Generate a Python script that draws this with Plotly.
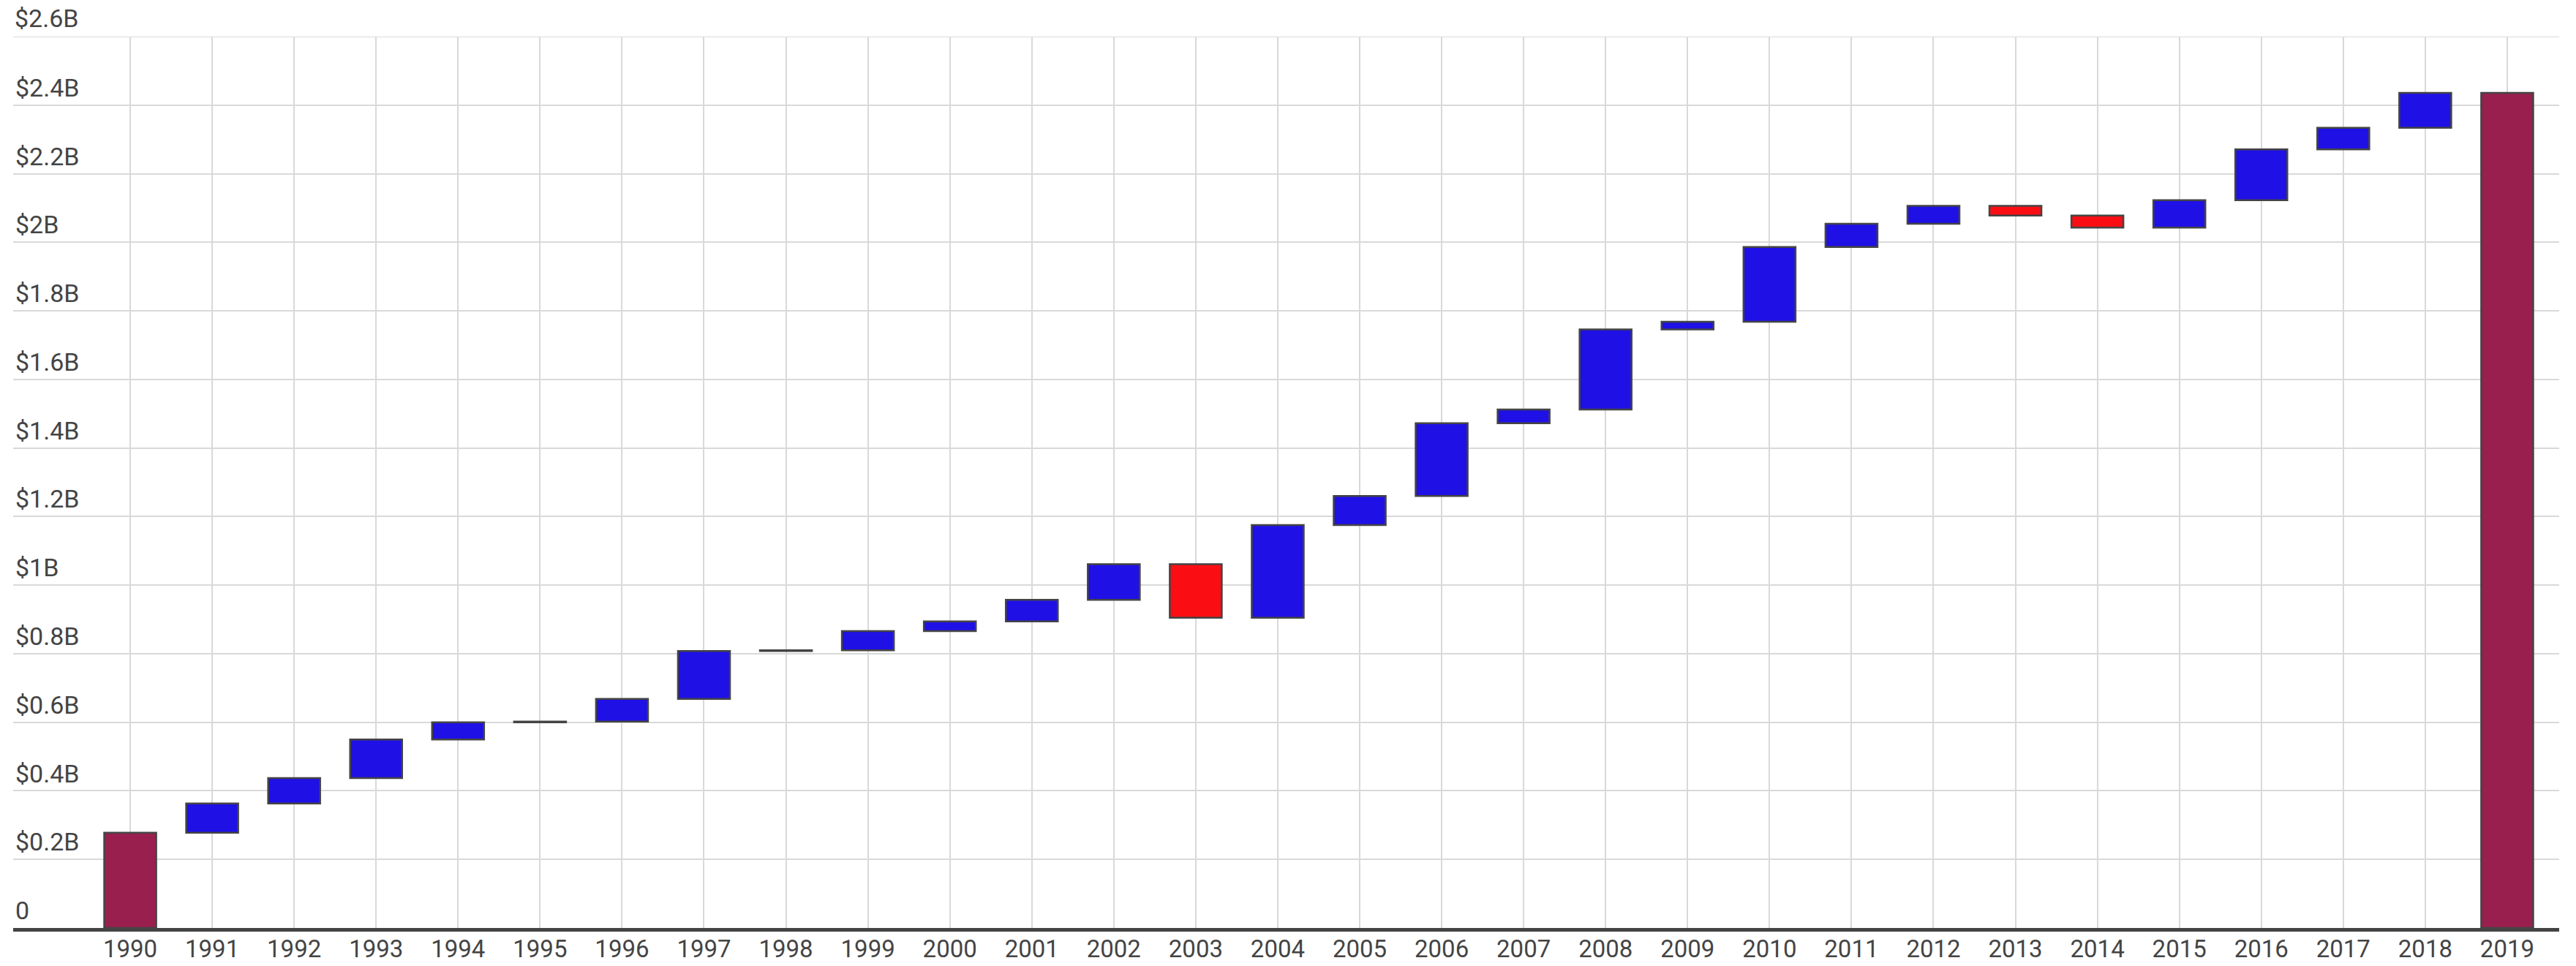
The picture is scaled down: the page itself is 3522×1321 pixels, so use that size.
import plotly.graph_objects as go

# ---- data (billions of US dollars) ----
years = [str(y) for y in range(1990, 2020)]
measures = ["absolute"] + ["relative"] * 28 + ["total"]
changes = [
    0.278,   # 1990 start
    0.085, 0.074, 0.113, 0.050, 0.002, 0.066, 0.140, 0.002, 0.056, 0.028,  # 1991-2000
    0.063, 0.104, -0.156, 0.270, 0.085, 0.212, 0.040, 0.234, 0.022, 0.218,  # 2001-2010
    0.068, 0.052, -0.028, -0.035, 0.080, 0.148, 0.063, 0.102,              # 2011-2018
    0,       # 2019 total
]
y_tickvals = [0, 0.2, 0.4, 0.6, 0.8, 1.0, 1.2, 1.4, 1.6, 1.8, 2.0, 2.2, 2.4, 2.6]
y_ticktext = ["0", "$0.2B", "$0.4B", "$0.6B", "$0.8B", "$1B", "$1.2B", "$1.4B",
              "$1.6B", "$1.8B", "$2B", "$2.2B", "$2.4B", "$2.6B"]

OUTLINE = dict(color="#444444", width=2.5)
GRID = "#d9d9d9"
FONT_SIZE = 34

fig = go.Figure(go.Waterfall(
    x=years,
    y=changes,
    measure=measures,
    increasing=dict(marker=dict(color="#1F10E6", line=OUTLINE)),
    decreasing=dict(marker=dict(color="#FA0E14", line=OUTLINE)),
    totals=dict(marker=dict(color="#991F4E", line=OUTLINE)),
    connector=dict(visible=False),
    width=0.634,
    showlegend=False,
))

fig.update_layout(
    width=3522, height=1321,
    margin=dict(l=18, r=23, t=50, b=52),
    paper_bgcolor="white", plot_bgcolor="white",
    font=dict(family="Roboto", size=FONT_SIZE, color="#444444"),
)
fig.update_xaxes(
    type="category",
    range=[-1.428, 29.634],
    automargin=False,
    showgrid=True, gridcolor=GRID, gridwidth=2,
    showline=True, linecolor="#444444", linewidth=5,
    ticks="", ticklen=0, ticklabelstandoff=-5,
    tickfont=dict(size=33, color="#444444"),
)
fig.update_yaxes(
    range=[y_tickvals[0], y_tickvals[-1]],
    automargin=False,
    tickvals=y_tickvals, ticktext=y_ticktext,
    ticklabelposition="inside top",
    showgrid=True, gridcolor=GRID, gridwidth=2,
    zeroline=False, showline=False,
    tickfont=dict(size=FONT_SIZE, color="#444444"),
)

# top gridline and its label sit on the plot edge, where plotly drops them
fig.add_shape(type="line", xref="paper", x0=0, x1=1, yref="y",
              y0=y_tickvals[-1], y1=y_tickvals[-1],
              line=dict(color=GRID, width=2), layer="below")
fig.add_annotation(xref="paper", x=0, xanchor="left", xshift=0,
                   yref="y", y=y_tickvals[-1], yanchor="bottom", yshift=3,
                   text=y_ticktext[-1], showarrow=False,
                   font=dict(size=FONT_SIZE, color="#444444", family="Roboto"))

fig.write_html(
    "out.html",
    config={"displayModeBar": False},
    post_script="document.body.style.margin='0';document.body.style.overflow='hidden';",
)
